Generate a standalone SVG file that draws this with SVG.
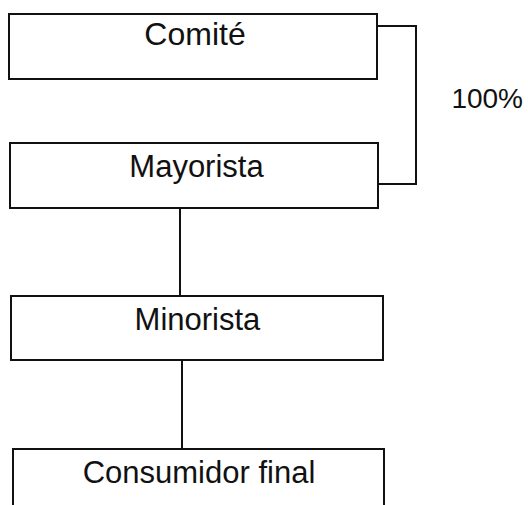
<svg xmlns="http://www.w3.org/2000/svg" width="528" height="505" viewBox="0 0 528 505">
<style>
.box{fill:#fff;stroke:#111;stroke-width:2}
.lbl{font-family:"Liberation Sans",Arial,sans-serif;font-size:31px;fill:#111;text-anchor:middle}
.conn{fill:none;stroke:#111;stroke-width:2}
</style>
<rect width="528" height="505" fill="#fff"/>
<g id="connectors">
<polyline class="conn" points="377,26 416,26 416,184 378,184"/>
<line class="conn" x1="180" y1="208" x2="180" y2="296"/>
<line class="conn" x1="182" y1="360" x2="182" y2="449"/>
</g>
<g id="comite">
<rect class="box" x="9" y="14" width="368" height="65"/>
<text class="lbl" x="195" y="45" style="font-size:32px">Comité</text>
</g>
<g id="mayorista">
<rect class="box" x="10" y="143" width="368" height="65"/>
<text class="lbl" x="196.5" y="177">Mayorista</text>
</g>
<g id="minorista">
<rect class="box" x="11" y="296" width="372" height="64"/>
<text class="lbl" x="197.5" y="330">Minorista</text>
</g>
<g id="consumidor">
<rect class="box" x="13" y="449" width="371" height="70"/>
<text class="lbl" x="199" y="483">Consumidor final</text>
</g>
<text class="lbl" x="523" y="108" style="font-size:28px;text-anchor:end">100%</text>
</svg>
